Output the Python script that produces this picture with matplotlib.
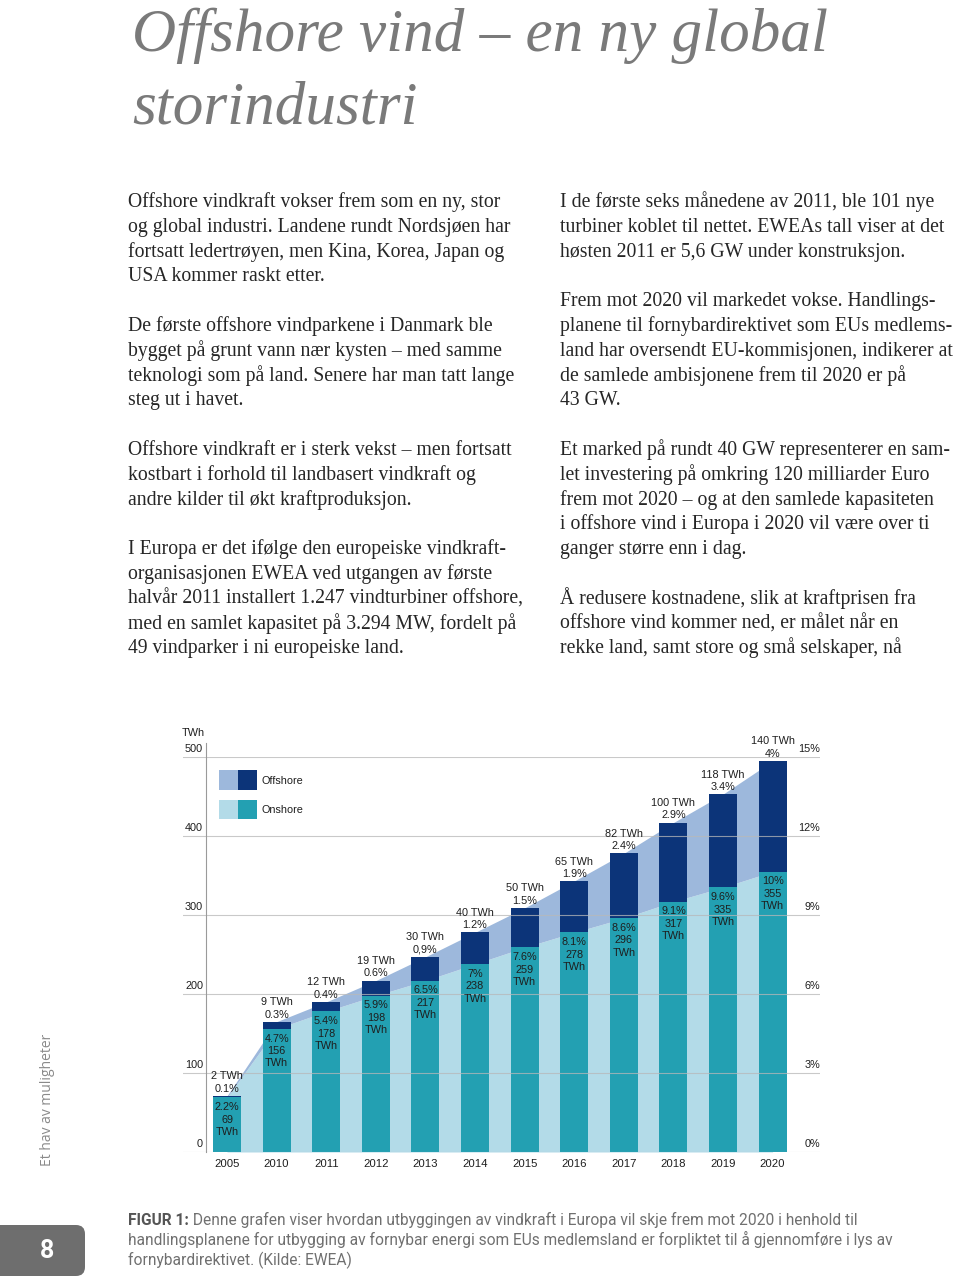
import matplotlib
matplotlib.use('Agg')
import matplotlib.pyplot as plt
from matplotlib import font_manager
from matplotlib.patches import Rectangle, FancyBboxPatch

# data
years = ['2005', '2010', '2011', '2012', '2013', '2014',
         '2015', '2016', '2017', '2018', '2019', '2020']
onshore_twh = [69, 156, 178, 198, 217, 238, 259, 278, 296, 317, 335, 355]
onshore_share = ['2.2%', '4.7%', '5.4%', '5.9%', '6.5%', '7%',
                 '7.6%', '8.1%', '8.6%', '9.1%', '9.6%', '10%']
offshore_twh = [2, 9, 12, 19, 30, 40, 50, 65, 82, 100, 118, 140]
offshore_share = ['0.1%', '0.3%', '0.4%', '0.6%', '0,9%', '1.2%',
                  '1.5%', '1.9%', '2.4%', '2.9%', '3.4%', '4%']
twh_ticks = [0, 100, 200, 300, 400, 500]
share_ticks = ['0%', '3%', '6%', '9%', '12%', '15%']

title_lines = ['Offshore vind – en ny global', 'storindustri']
left_col = [
    'Offshore vindkraft vokser frem som en ny, stor',
    'og global industri. Landene rundt Nordsjøen har',
    'fortsatt ledertrøyen, men Kina, Korea, Japan og',
    'USA kommer raskt etter.',
    '',
    'De første offshore vindparkene i Danmark ble',
    'bygget på grunt vann nær kysten – med samme',
    'teknologi som på land. Senere har man tatt lange',
    'steg ut i havet.',
    '',
    'Offshore vindkraft er i sterk vekst – men fortsatt',
    'kostbart i forhold til landbasert vindkraft og',
    'andre kilder til økt kraftproduksjon.',
    '',
    'I Europa er det ifølge den europeiske vindkraft-',
    'organisasjonen EWEA ved utgangen av første',
    'halvår 2011 installert 1.247 vindturbiner offshore,',
    'med en samlet kapasitet på 3.294 MW, fordelt på',
    '49 vindparker i ni europeiske land.',
]
right_col = [
    'I de første seks månedene av 2011, ble 101 nye',
    'turbiner koblet til nettet. EWEAs tall viser at det',
    'høsten 2011 er 5,6 GW under konstruksjon.',
    '',
    'Frem mot 2020 vil markedet vokse. Handlings-',
    'planene til fornybardirektivet som EUs medlems-',
    'land har oversendt EU-kommisjonen, indikerer at',
    'de samlede ambisjonene frem til 2020 er på',
    '43 GW.',
    '',
    'Et marked på rundt 40 GW representerer en sam-',
    'let investering på omkring 120 milliarder Euro',
    'frem mot 2020 – og at den samlede kapasiteten',
    'i offshore vind i Europa i 2020 vil være over ti',
    'ganger større enn i dag.',
    '',
    'Å redusere kostnadene, slik at kraftprisen fra',
    'offshore vind kommer ned, er målet når en',
    'rekke land, samt store og små selskaper, nå',
]
caption_head = 'FIGUR 1:'
caption_lines = [
    ' Denne grafen viser hvordan utbyggingen av vindkraft i Europa vil skje frem mot 2020 i henhold til',
    'handlingsplanene for utbygging av fornybar energi som EUs medlemsland er forpliktet til å gjennomføre i lys av',
    'fornybardirektivet. (Kilde: EWEA)',
]

# colours
c_light = '#b3dbe8'
c_band = '#9db8dc'
c_teal = '#23a0b2'
c_navy = '#0c3479'
c_grid = '#b8b8b8'
c_txt = '#1e1e1e'

names = {f.name for f in font_manager.fontManager.ttflist}
narrow = 'Liberation Sans Narrow' if 'Liberation Sans Narrow' in names else 'Roboto'
chart_font = 'Liberation Sans'
serif = 'Liberation Serif'

W, H = 960, 1277
fig = plt.figure(figsize=(W / 100, H / 100), dpi=100)

# page layer in pixel coordinates
page = fig.add_axes([0, 0, 1, 1])
page.set_xlim(0, W)
page.set_ylim(H, 0)
page.axis('off')

for k, line in enumerate(title_lines):
    page.text(132, 51 + k * 72, line, family=serif, style='italic',
              fontsize=44, color='#7a7a7a', va='baseline')

for col_x, col in ((128, left_col), (560, right_col)):
    for k, line in enumerate(col):
        if line:
            page.text(col_x, 207 + k * 24.8, line, family=serif, fontsize=14.2,
                      color='#262626', va='baseline')

renderer = fig.canvas.get_renderer()

# caption, sized to the width of its longest line
probe = page.text(128, 1245, caption_lines[1], family=narrow, fontsize=10,
                  color='#707070', va='baseline')
cap_size = 10 * 765 / probe.get_window_extent(renderer).width
probe.set_fontsize(cap_size)
head = page.text(128, 1225, caption_head, family=narrow, fontsize=cap_size,
                 weight='bold', color='#555555', va='baseline')
hx = head.get_window_extent(renderer).x1
page.text(hx, 1225, caption_lines[0], family=narrow, fontsize=cap_size,
          color='#707070', va='baseline')
page.text(128, 1265, caption_lines[2], family=narrow, fontsize=cap_size,
          color='#707070', va='baseline')

# page number tab
page.add_patch(FancyBboxPatch((-20, 1225), 105, 51,
                              boxstyle='round,pad=0,rounding_size=9',
                              fc='#6e6e6e', ec='none'))
page.text(47, 1251, '8', family=narrow, weight='bold', fontsize=18,
          color='white', ha='center', va='center')
page.text(48, 1166, 'Et hav av muligheter', family='Open Sans', fontsize=10,
          color='#8a8a8a', rotation=90, ha='center', va='bottom')

# chart
x0_px, step_px = 227, 49.6
left_px, right_px, base_px, top_px = 183, 820, 1152, 757
ax = fig.add_axes([left_px / W, 1 - base_px / H,
                   (right_px - left_px) / W, (base_px - top_px) / H])
ax.set_facecolor('none')
ax.set_xlim((left_px - x0_px) / step_px, (right_px - x0_px) / step_px)
ax.set_ylim(0, 500)
ax.axis('off')

idx = list(range(len(years)))
totals = [a + b for a, b in zip(onshore_twh, offshore_twh)]
ax.fill_between(idx, 0, onshore_twh, color=c_light, lw=0, zorder=1)
ax.fill_between(idx, onshore_twh, totals, color=c_band, lw=0, zorder=1)

bw = 28 / step_px
ax.bar(idx, onshore_twh, width=bw, color=c_teal, zorder=2)
ax.bar(idx, offshore_twh, bottom=onshore_twh, width=bw, color=c_navy, zorder=2)

for v in twh_ticks:
    ax.axhline(v, color=c_grid, lw=0.8, alpha=0.75, zorder=3)
ax.plot([(206 - x0_px) / step_px] * 2, [0, 518], color='#9a9a9a', lw=0.8,
        clip_on=False, zorder=3)

fs = 7.8
for v, s in zip(twh_ticks, share_ticks):
    ax.annotate(str(v), xy=((203 - x0_px) / step_px, v), xytext=(0, 2.5),
                textcoords='offset points', ha='right', va='bottom',
                family=chart_font, fontsize=fs, color=c_txt, annotation_clip=False)
    ax.annotate(s, xy=(1, v), xycoords=('axes fraction', 'data'), xytext=(0, 2.5),
                textcoords='offset points', ha='right', va='bottom',
                family=chart_font, fontsize=fs, color=c_txt, annotation_clip=False)
page.text(182, 733, 'TWh', family=chart_font, fontsize=fs, color=c_txt,
          va='center')

for i in idx:
    ax.annotate(years[i], xy=(i, 0), xytext=(0, -8.6), textcoords='offset points',
                ha='center', va='center', family=chart_font, fontsize=fs + 0.4,
                color=c_txt, annotation_clip=False)
    ax.annotate(f'{offshore_twh[i]} TWh\n{offshore_share[i]}', xy=(i, totals[i]),
                xytext=(0, 1.5), textcoords='offset points', ha='center',
                va='bottom', family=chart_font, fontsize=fs, color=c_txt,
                linespacing=1.3, zorder=5, annotation_clip=False)
    ax.annotate(f'{onshore_share[i]}\n{onshore_twh[i]}\nTWh', xy=(i, onshore_twh[i]),
                xytext=(0, -3.5), textcoords='offset points', ha='center',
                va='top', family=chart_font, fontsize=fs, color=c_txt,
                linespacing=1.3, zorder=5, annotation_clip=False)

# legend
for k, (light, dark, name) in enumerate(((c_band, c_navy, 'Offshore'),
                                          (c_light, c_teal, 'Onshore'))):
    y = 770 + k * 29.5
    page.add_patch(Rectangle((219, y), 19, 19.5, fc=light, ec='none'))
    page.add_patch(Rectangle((238, y), 19, 19.5, fc=dark, ec='none'))
    page.text(261, y + 10.5, name, family=chart_font, fontsize=fs, color=c_txt,
              va='center')

fig.savefig('out.png', dpi=100)
